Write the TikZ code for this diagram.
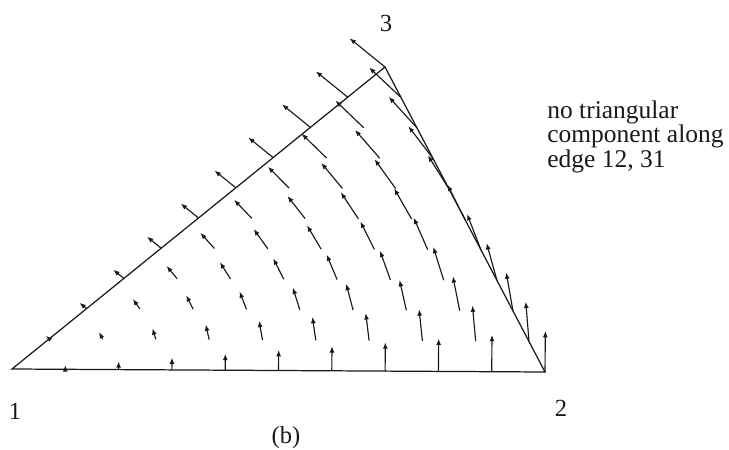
\documentclass[tikz,border=0pt]{standalone}
\usepackage{fontspec}
\setmainfont{Liberation Serif}
\definecolor{ink}{RGB}{25,25,25}
\usetikzlibrary{arrows.meta,calc}

\begin{document}
\begin{tikzpicture}[x=0.02cm,y=-0.02cm,
  edge/.style={ink, line width=0.7pt},
  field/.style={ink, line width=0.65pt, -{Latex[length=3.6pt,width=2.8pt]}},
  lbl/.style={font=\fontsize{14}{14}\selectfont, text=ink, inner sep=0pt}]
  \useasboundingbox (0,0) rectangle (729,449);
  \coordinate (v1) at (12,369);
  \coordinate (v2) at (545,372);
  \coordinate (v3) at (385,67);
  \draw[edge] (v1) -- (v2) -- (v3) -- cycle;
  \foreach \b in {0,...,10}{
    \pgfmathtruncatemacro{\cmax}{10-\b}
    \foreach \c in {0,...,\cmax}{
      \pgfmathsetmacro{\la}{(10-\b-\c)/10}
      \pgfmathsetmacro{\lb}{\b/10}
      \pgfmathsetmacro{\lc}{\c/10}
      \pgfmathsetmacro{\wx}{\lb*0.35-\lc*35.4}
      \pgfmathsetmacro{\wy}{-\lb*41.0-\lc*28.7}
      \ifnum\numexpr\b+\c\relax>0
        \draw[field] ($\la*(v1)+\lb*(v2)+\lc*(v3)$) -- ++(\wx,\wy);
      \fi
    }
  }
  \node[lbl] (lbl1) at (15,411) {1};
  \node[lbl] (lbl2) at (561,408) {2};
  \node[lbl] (lbl3) at (386,23) {3};
  \node[lbl] (capb) at (286,438) {(b)};
  \node[lbl, anchor=north west, align=left, font=\fontsize{14.5}{12.5}\selectfont]
    (note) at (547,100) {no triangular\\component along\\edge 12, 31};
\end{tikzpicture}
\end{document}
